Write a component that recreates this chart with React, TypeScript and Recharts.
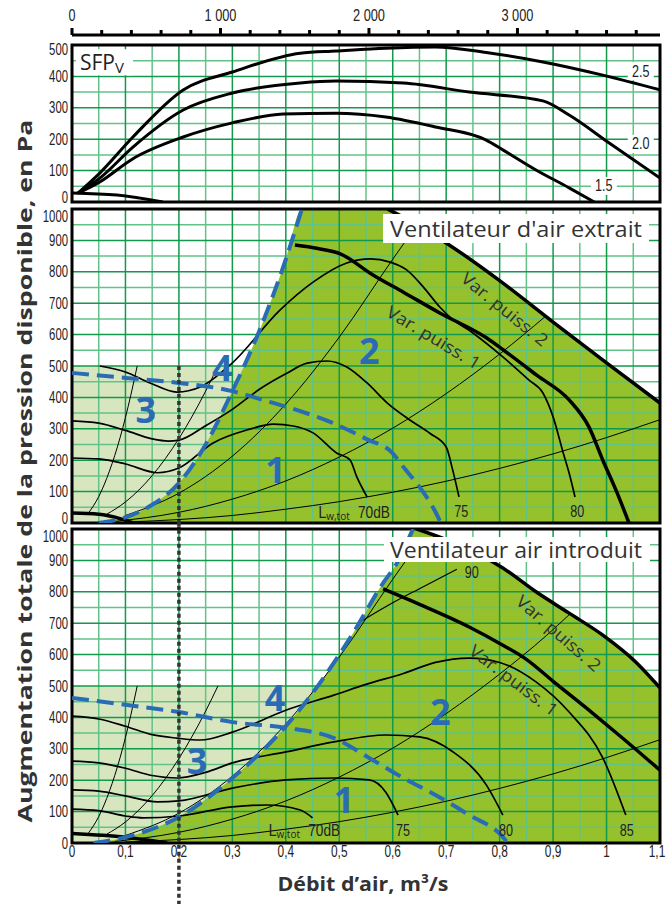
import React from "react";
import {
  ComposedChart,
  Line,
  Area,
  XAxis,
  YAxis,
  CartesianGrid,
  ReferenceLine,
  ReferenceArea,
  ReferenceDot,
} from "recharts";

type P = [number, number];

// axes
const debitHTicks = [0, 200, 400, 600, 800, 1000, 1200, 1400, 1600, 1800, 2000, 2200, 2400, 2600, 2800, 3000, 3200, 3400, 3600, 3800];
const debitTicks = [0, 0.1, 0.2, 0.3, 0.4, 0.5, 0.6, 0.7, 0.8, 0.9, 1, 1.1];
const sfpTicks = [0, 100, 200, 300, 400, 500];
const pressTicks = [0, 100, 200, 300, 400, 500, 600, 700, 800, 900, 1000];
const gridXMajor = [0.1, 0.2, 0.3, 0.4, 0.5, 0.6, 0.7, 0.8, 0.9, 1];
const gridXMinor = [0.05, 0.15, 0.25, 0.35, 0.45, 0.55, 0.65, 0.75, 0.85, 0.95, 1.05];
const sfpGridMajor = [100, 200, 300, 400];
const sfpGridMinor = [50, 150, 250, 350, 450];
const pressGridMajor = [100, 200, 300, 400, 500, 600, 700, 800, 900];
const pressGridMinor = [50, 150, 250, 350, 450, 550, 650, 750, 850, 950];

// SFPv
const sfp25: P[] = [[0.011, 28], [0.052, 92], [0.114, 207], [0.208, 357], [0.3, 414], [0.427, 474], [0.494, 481], [0.587, 490], [0.68, 494], [0.775, 476], [0.881, 446], [0.993, 404], [1.1, 357]];
const sfp20: P[] = [[0.011, 28], [0.052, 76], [0.114, 175], [0.208, 293], [0.3, 347], [0.427, 379], [0.494, 385], [0.62, 379], [0.743, 350], [0.881, 322], [0.93, 277], [1.005, 188], [1.1, 76]];
const sfp15: P[] = [[0.011, 28], [0.052, 64], [0.114, 138], [0.208, 207], [0.3, 252], [0.395, 280], [0.494, 283], [0.587, 271], [0.68, 239], [0.775, 197], [0.806, 166], [0.868, 102], [0.93, 45], [0.977, 0]];
const sfp0: P[] = [[0, 29], [0.084, 22], [0.17, 0]];

// ventilateur d'air extrait
const exLeft: P[] = [[0.05, 0], [0.1, 18], [0.15, 58], [0.2, 127], [0.25, 250], [0.3, 420], [0.35, 610], [0.4, 840], [0.43, 1000]];
const exOuter: P[] = [[0.59, 1000], [0.65, 945], [0.7, 892], [0.8, 772], [0.9, 640], [1.0, 510], [1.1, 382]];
const exInner: P[] = [[0.417, 885], [0.46, 874], [0.501, 858], [0.563, 790], [0.62, 735], [0.688, 669], [0.776, 589], [0.807, 551], [0.87, 470], [0.93, 392], [0.967, 306], [0.993, 200], [1.02, 95], [1.042, 0]];
const ex80: P[] = [[0.052, 500], [0.1, 481], [0.146, 446], [0.196, 417], [0.24, 433], [0.3, 510], [0.389, 678], [0.451, 767], [0.514, 828], [0.558, 841], [0.595, 831], [0.626, 806], [0.657, 752], [0.688, 688], [0.707, 656], [0.75, 605], [0.806, 529], [0.855, 455], [0.881, 414], [0.9, 338], [0.919, 223], [0.93, 159], [0.941, 83]];
const ex75: P[] = [[0, 325], [0.05, 318], [0.1, 295], [0.15, 268], [0.18, 261], [0.2, 264], [0.25, 310], [0.3, 362], [0.35, 425], [0.4, 475], [0.44, 509], [0.477, 516], [0.514, 497], [0.552, 446], [0.59, 382], [0.632, 328], [0.67, 285], [0.7, 242], [0.712, 170], [0.724, 83]];
const ex70: P[] = [[0, 207], [0.05, 204], [0.1, 188], [0.16, 160], [0.2, 175], [0.264, 255], [0.327, 296], [0.377, 315], [0.414, 309], [0.451, 287], [0.495, 223], [0.52, 201], [0.533, 146], [0.552, 83]];
const ex0: P[] = [[0, 32], [0.05, 28], [0.09, 14], [0.115, 0]];
const exDash3: P[] = [[0, 478], [0.1, 462], [0.2, 446], [0.3, 420], [0.357, 392], [0.42, 360], [0.483, 322], [0.55, 268], [0.6, 222], [0.62, 178], [0.65, 115], [0.68, 35], [0.69, 0]];

// courbes de réseau (mêmes dans les deux diagrammes)
const sysA: P[] = [[0.03, 30], [0.05, 84], [0.07, 165], [0.09, 272], [0.11, 407], [0.122, 500]];
const sysB: P[] = [[0.065, 28], [0.1, 67], [0.15, 151], [0.2, 269], [0.25, 420], [0.273, 500]];
const sysC: P[] = [[0.1, 24], [0.2, 95], [0.3, 213], [0.4, 379], [0.5, 592], [0.6, 840], [0.65, 960]];
const sysD: P[] = [[0.08, 5], [0.2, 34], [0.3, 76], [0.4, 134], [0.5, 210], [0.6, 302], [0.7, 412], [0.8, 538], [0.887, 660]];
const sysDin: P[] = [...sysD, [0.93, 727]];
const sysE: P[] = [[0.1, 3], [0.2, 11], [0.3, 24], [0.4, 44], [0.5, 68], [0.6, 98], [0.7, 133], [0.8, 174], [0.9, 220], [1.0, 272], [1.1, 329]];

// ventilateur air introduit
const inLeft: P[] = [[0.04, 0], [0.115, 25], [0.2, 83], [0.3, 207], [0.4, 372], [0.464, 510], [0.526, 669], [0.582, 828], [0.608, 892], [0.638, 1000]];
const inOuter: P[] = [[0.645, 1000], [0.7, 966], [0.806, 876], [0.868, 800], [0.93, 732], [0.993, 662], [1.055, 576], [1.1, 494]];
const inInner: P[] = [[0.582, 809], [0.65, 760], [0.743, 688], [0.806, 630], [0.85, 585], [0.9, 515], [0.962, 430], [1.023, 344], [1.1, 232]];
const in90: P[] = [[0.535, 700], [0.6, 765], [0.65, 810], [0.72, 872]];
const in85: P[] = [[0, 404], [0.05, 395], [0.1, 372], [0.15, 345], [0.196, 334], [0.24, 328], [0.3, 353], [0.4, 423], [0.49, 471], [0.55, 505], [0.62, 540], [0.68, 575], [0.743, 589], [0.8, 575], [0.868, 513], [0.93, 417], [0.993, 271], [1.036, 89]];
const in80: P[] = [[0, 261], [0.05, 255], [0.1, 238], [0.15, 215], [0.196, 207], [0.25, 225], [0.3, 255], [0.4, 290], [0.49, 322], [0.587, 344], [0.65, 338], [0.713, 290], [0.775, 185], [0.806, 89]];
const in75: P[] = [[0, 169], [0.05, 165], [0.1, 150], [0.16, 131], [0.2, 134], [0.3, 175], [0.4, 201], [0.49, 207], [0.556, 201], [0.587, 162], [0.61, 89]];
const in70: P[] = [[0, 108], [0.05, 103], [0.1, 86], [0.133, 80], [0.2, 86], [0.3, 115], [0.364, 121], [0.427, 105], [0.45, 80]];
const in0: P[] = [[0, 30], [0.1, 18], [0.178, 0]];
const inDash3: P[] = [[0, 462], [0.1, 440], [0.2, 417], [0.3, 385], [0.4, 367], [0.49, 334], [0.556, 271], [0.62, 207], [0.68, 153], [0.743, 89], [0.806, 19], [0.815, 0]];

const pts = (a: P[]) => a.map(([x, y]) => ({ x, y }));

const W = 672;
const H = 904;
const Y_W = 40;
const X_H = 30;
const INK = "#222";
const BLUE = "#2a6cb4";
const LIGHT = "#d8e6c0";
const DARK = "#95c12c";
const G_MAJOR = "#119a4b";
const G_MINOR = "#62c388";
const NARROW = "'Liberation Sans Narrow', 'Liberation Sans', sans-serif";
const SANS = "'Open Sans', 'Noto Sans', sans-serif";

const fmtDebit = (v: number) => (v === 0 ? "0" : String(Math.round(v * 10) / 10).replace(".", ","));

// largeur de texte étroit (police condensée de l'original)
const narrowWidth = (s: string, digit: number) =>
  s.split("").reduce((w, ch) => w + (/[0-9]/.test(ch) ? digit : ch === " " ? 4 : ch === "." || ch === "," ? 3.5 : 9), 0);

const Narrow = ({ x, y, s, size, digit, anchor = "middle", dy = 0 }: any) => (
  <text
    x={x}
    y={y + dy}
    textAnchor={anchor}
    dominantBaseline="central"
    fontSize={size}
    fontFamily={NARROW}
    fill={INK}
    textLength={narrowWidth(s, digit)}
    lengthAdjust="spacingAndGlyphs"
  >
    {s}
  </text>
);

const center = (vb: any) => ({ x: vb.x + (vb.width || 0) / 2, y: vb.y + (vb.height || 0) / 2 });

const Txt = (props: any) => {
  const { viewBox, text, size = 15, color = INK, family = SANS, weight = 400, rot = 0, len } = props;
  const c = center(viewBox);
  return (
    <text
      x={c.x}
      y={c.y}
      textAnchor="middle"
      dominantBaseline="central"
      fontSize={size}
      fontFamily={family}
      fontWeight={weight}
      fill={color}
      textLength={len}
      lengthAdjust={len ? "spacingAndGlyphs" : undefined}
      transform={rot ? `rotate(${rot} ${c.x} ${c.y})` : undefined}
    >
      {text}
    </text>
  );
};

const NumTxt = (props: any) => {
  const c = center(props.viewBox);
  return <Narrow x={c.x} y={c.y} s={props.text} size={16} digit={7} />;
};

const BoxTxt = (props: any) => {
  const c = center(props.viewBox);
  return (
    <g>
      <rect x={c.x - 13} y={c.y - 9} width={26} height={18} fill="#fff" />
      <Narrow x={c.x} y={c.y} s={props.text} size={17} digit={7} />
    </g>
  );
};

const SfpLabel = (props: any) => {
  const c = center(props.viewBox);
  return (
    <g>
      <rect x={c.x - 4} y={c.y - 13} width={57} height={26} fill="#fff" />
      <text x={c.x} y={c.y + 8} fontSize={21} fontFamily={SANS} fill={INK}>
        SFP<tspan fontSize={15} dy={3}>V</tspan>
      </text>
    </g>
  );
};

const LwLabel = (props: any) => {
  const c = center(props.viewBox);
  return (
    <g>
      <text x={c.x} y={c.y} dominantBaseline="central" fontSize={16} fontFamily={SANS} fill={INK}>
        L<tspan fontSize={10} dy={4}>w,tot</tspan>
      </text>
      <Narrow x={c.x + 40} y={c.y} s={props.db} size={16} digit={7} anchor="start" />
    </g>
  );
};

const RulerTick = (props: any) => {
  const { x, y, payload } = props;
  const major = payload.value % 1000 === 0;
  return (
    <g>
      <line x1={x} x2={x} y1={y} y2={y - (major ? 7 : 5)} stroke="#000" strokeWidth={3} />
      {major && <Narrow x={x} y={y - 20} s={payload.value === 0 ? "0" : `${payload.value / 1000} 000`} size={17} digit={7} />}
    </g>
  );
};

// étiquettes de l'axe des pressions, décalées aux bords comme dans l'original
const PressTick = (props: any) => {
  const { x, y, payload, max, first, last } = props;
  let dy = 0;
  if (payload.value === 0 && !last) dy = -5;
  if (payload.value === max && !first) dy = 7;
  if (payload.value === max && first) dy = 4;
  return <Narrow x={x} y={y} dy={dy} s={String(payload.value)} size={16} digit={6.3} anchor="end" />;
};

const XTick = (props: any) => {
  const { x, y, payload } = props;
  const edge = payload.value >= 1.1 ? -3 : 0;
  return <Narrow x={x + edge} y={y + 8} s={fmtDebit(payload.value)} size={17} digit={6.5} />;
};

const layerStyle: React.CSSProperties = { position: "absolute", left: 0, top: 0 };

const margin = (top: number, bottom: number, withX: boolean) => ({
  top,
  right: W - 660,
  left: 72 - Y_W,
  bottom: H - bottom - (withX ? X_H : 0),
});

const xAxisHidden = <XAxis dataKey="x" type="number" domain={[0, 1.1]} allowDataOverflow hide />;

const xAxisBottom = (show: boolean) => (
  <XAxis
    dataKey="x"
    type="number"
    domain={[0, 1.1]}
    allowDataOverflow
    ticks={debitTicks}
    interval={0}
    height={X_H}
    tickSize={0}
    tickMargin={0}
    axisLine={false}
    tickLine={false}
    tick={show ? <XTick /> : false}
  />
);

const yAxis = (max: number, ticks: number[], show: boolean, first = false, last = false) => (
  <YAxis
    type="number"
    domain={[0, max]}
    allowDataOverflow
    ticks={ticks}
    interval={0}
    width={Y_W}
    tickSize={0}
    tickMargin={4}
    axisLine={false}
    tickLine={false}
    tick={show ? <PressTick max={max} first={first} last={last} /> : false}
  />
);

const grid = (major: number[], minor: number[]) => [
  <CartesianGrid key="gmin" stroke={G_MINOR} strokeWidth={1.5} horizontalValues={minor} verticalValues={gridXMinor} />,
  <CartesianGrid key="gmaj" stroke={G_MAJOR} strokeWidth={1.5} horizontalValues={major} verticalValues={gridXMajor} />,
];

const curve = (key: string, data: P[], width: number, extra: any = {}) => (
  <Line
    key={key}
    data={pts(data)}
    dataKey="y"
    type="monotone"
    dot={false}
    activeDot={false}
    stroke="#000"
    strokeWidth={width}
    isAnimationActive={false}
    {...extra}
  />
);

const dashed = (key: string, data: P[]) => curve(key, data, 4, { stroke: BLUE, strokeDasharray: "17 8" });

const systemCurves = (d: P[]) => [
  curve("sA", sysA, 1),
  curve("sB", sysB, 1),
  curve("sC", sysC, 1),
  curve("sD", d, 1),
  curve("sE", sysE, 1),
];

const mark = (key: string, x: number, y: number, label: React.ReactElement) => (
  <ReferenceDot key={key} x={x} y={y} r={1} fill="none" stroke="none" label={label} />
);

const bigNum = (key: string, x: number, y: number, n: string) =>
  mark(key, x, y, <Txt text={n} size={36} weight={700} color={BLUE} />);

const puiss = (key: string, x: number, y: number, n: string, rot: number) =>
  mark(key, x, y, <Txt text={`Var. puiss. ${n}`} size={17} rot={rot} len={106} color="#333" />);

const frame = (max: number) => (
  <ReferenceArea x1={0} x2={1.1} y1={0} y2={max} fill="none" fillOpacity={0} stroke="#000" strokeWidth={3} ifOverflow="visible" />
);

const dotted = (key: string, y1: number, y2: number) => (
  <ReferenceLine
    key={key}
    segment={[{ x: 0.2, y: y1 }, { x: 0.2, y: y2 }]}
    stroke="#333"
    strokeWidth={3.5}
    strokeDasharray="4 3"
    ifOverflow="visible"
  />
);

export default function App() {
  const exFill = pts([...exLeft, ...exOuter]);
  const inFill = pts([...inLeft, ...inOuter]);

  return (
    <div style={{ position: "absolute", left: 0, top: 0, width: W, height: H, background: "#fff" }}>
      {/* fonds verts */}
      <div style={layerStyle}>
        <ComposedChart width={W} height={H} margin={margin(209, 523, false)}>
          {xAxisHidden}
          {yAxis(1000, pressTicks, false)}
          <ReferenceArea x1={0} x2={0.32} y1={0} y2={500} fill={LIGHT} fillOpacity={1} stroke="none" />
          <Area data={exFill} dataKey="y" type="monotone" stroke="none" fill={DARK} fillOpacity={1} isAnimationActive={false} />
        </ComposedChart>
      </div>
      <div style={layerStyle}>
        <ComposedChart width={W} height={H} margin={margin(529, 843, true)}>
          {xAxisBottom(false)}
          {yAxis(1000, pressTicks, false)}
          <ReferenceArea x1={0} x2={0.46} y1={0} y2={500} fill={LIGHT} fillOpacity={1} stroke="none" />
          <Area data={inFill} dataKey="y" type="monotone" stroke="none" fill={DARK} fillOpacity={1} isAnimationActive={false} />
        </ComposedChart>
      </div>

      {/* SFPv */}
      <div style={layerStyle}>
        <ComposedChart width={W} height={H} margin={margin(45, 202, false)}>
          {xAxisHidden}
          {yAxis(500, sfpTicks, true, true, false)}
          {grid(sfpGridMajor, sfpGridMinor)}
          {curve("s25", sfp25, 3)}
          {curve("s20", sfp20, 3)}
          {curve("s15", sfp15, 3)}
          {curve("s0", sfp0, 3)}
          {frame(500)}
          {mark("sfp", 0.015, 445, <SfpLabel />)}
          {mark("l25", 1.064, 417, <BoxTxt text="2.5" />)}
          {mark("l20", 1.064, 185, <BoxTxt text="2.0" />)}
          {mark("l15", 0.995, 51, <BoxTxt text="1.5" />)}
        </ComposedChart>
      </div>

      {/* air extrait */}
      <div style={layerStyle}>
        <ComposedChart width={W} height={H} margin={margin(209, 523, false)}>
          {xAxisHidden}
          {yAxis(1000, pressTicks, true)}
          {grid(pressGridMajor, pressGridMinor)}
          {systemCurves(sysD)}
          {curve("e80", ex80, 1.7)}
          {curve("e75", ex75, 1.7)}
          {curve("e70", ex70, 1.7)}
          {curve("e0", ex0, 3.5)}
          {curve("eOut", exOuter, 3.5)}
          {curve("eIn", exInner, 3.5)}
          {dashed("e4", exLeft)}
          {dashed("e3", exDash3)}
          {dotted("eDot", 500, -18)}
          {frame(1000)}
          {mark("eLw", 0.46, 35, <LwLabel db="70dB" />)}
          {mark("e75l", 0.728, 38, <NumTxt text="75" />)}
          {mark("e80l", 0.945, 38, <NumTxt text="80" />)}
          {puiss("eV2", 0.81, 682, "2", 39)}
          {puiss("eV1", 0.677, 592, "1", 31)}
          {bigNum("e1", 0.381, 169, "1")}
          {bigNum("e2", 0.556, 548, "2")}
          {bigNum("e3n", 0.138, 360, "3")}
          {bigNum("e4n", 0.281, 494, "4")}
        </ComposedChart>
      </div>

      {/* air introduit */}
      <div style={layerStyle}>
        <ComposedChart width={W} height={H} margin={margin(529, 843, true)}>
          {xAxisBottom(true)}
          {yAxis(1000, pressTicks, true, false, true)}
          {grid(pressGridMajor, pressGridMinor)}
          {systemCurves(sysDin)}
          {curve("i90", in90, 1.2)}
          {curve("i85", in85, 1.7)}
          {curve("i80", in80, 1.7)}
          {curve("i75", in75, 1.7)}
          {curve("i70", in70, 1.7)}
          {curve("i0", in0, 3.5)}
          {curve("iOut", inOuter, 3.5)}
          {curve("iIn", inInner, 3.5)}
          {dashed("i4", inLeft)}
          {dashed("i3", inDash3)}
          {dotted("iDot", 1020, -200)}
          {frame(1000)}
          {mark("iLw", 0.367, 41, <LwLabel db="70dB" />)}
          {mark("i75l", 0.619, 41, <NumTxt text="75" />)}
          {mark("i80l", 0.812, 41, <NumTxt text="80" />)}
          {mark("i85l", 1.038, 41, <NumTxt text="85" />)}
          {mark("i90l", 0.748, 863, <NumTxt text="90" />)}
          {puiss("iV2", 0.911, 669, "2", 41)}
          {puiss("iV1", 0.827, 519, "1", 37)}
          {bigNum("i1", 0.509, 140, "1")}
          {bigNum("i2", 0.689, 418, "2")}
          {bigNum("i3n", 0.234, 264, "3")}
          {bigNum("i4n", 0.38, 462, "4")}
        </ComposedChart>
      </div>

      {/* règle du haut, m³/h */}
      <div style={layerStyle}>
        <ComposedChart width={W} height={40} margin={{ top: 0, right: W - 660, left: 72, bottom: 0 }} data={debitHTicks.map((v) => ({ mh: v }))}>
          <XAxis
            dataKey="mh"
            type="number"
            orientation="top"
            domain={[0, 3960]}
            ticks={debitHTicks}
            interval={0}
            height={35}
            tickSize={0}
            tickMargin={0}
            tickLine={false}
            axisLine={{ stroke: "#000", strokeWidth: 3 }}
            tick={<RulerTick />}
          />
          <YAxis hide />
        </ComposedChart>
      </div>

      {/* titres */}
      <svg width={W} height={H} style={{ ...layerStyle, pointerEvents: "none" }}>
        <text
          transform="rotate(-90)"
          x={-471}
          y={32}
          textAnchor="middle"
          fontSize={20}
          fontWeight={700}
          fontFamily={SANS}
          fill="#333"
          textLength={703}
          lengthAdjust="spacingAndGlyphs"
        >
          Augmentation totale de la pression disponible, en Pa
        </text>
        <text x={363} y={891} textAnchor="middle" fontSize={20} fontWeight={700} fontFamily={SANS} fill="#333" textLength={171} lengthAdjust="spacingAndGlyphs">
          Débit d’air, m³/s
        </text>
        <rect x={383} y={214} width={266} height={29} fill="#fff" />
        <text x={390} y={237} fontSize={21} fontFamily={SANS} fill="#333" textLength={252} lengthAdjust="spacingAndGlyphs">
          Ventilateur d'air extrait
        </text>
        <rect x={384} y={537} width={266} height={25} fill="#fff" />
        <text x={390} y={558} fontSize={21} fontFamily={SANS} fill="#333" textLength={252} lengthAdjust="spacingAndGlyphs">
          Ventilateur air introduit
        </text>
      </svg>
    </div>
  );
}
